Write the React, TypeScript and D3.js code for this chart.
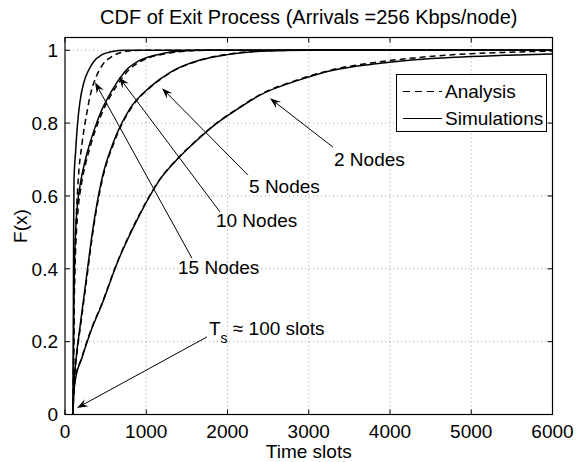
import React, { useEffect, useRef } from 'react';
import * as d3 from 'd3';

type Pt = [number, number];

const title = 'CDF of Exit Process (Arrivals =256 Kbps/node)';
const xTicks = [0, 1000, 2000, 3000, 4000, 5000, 6000];
const yTicks = [0, 0.2, 0.4, 0.6, 0.8, 1];
const yTickLabels = ['0', '0.2', '0.4', '0.6', '0.8', '1'];

// [time slots, F(x)]
const sim2: Pt[] = [[100, 0], [101, 0.03], [130, 0.1], [200, 0.15], [320, 0.23], [450, 0.3], [650, 0.42], [900, 0.54], [1168, 0.645], [1400, 0.705], [1600, 0.748], [1870, 0.8], [2100, 0.835], [2400, 0.877], [2878, 0.918], [3300, 0.945], [3800, 0.962], [4300, 0.974], [4800, 0.981], [5400, 0.986], [6000, 0.99]];
const ana2: Pt[] = [[100, 0], [101, 0.03], [130, 0.1], [200, 0.152], [320, 0.232], [450, 0.302], [650, 0.422], [900, 0.542], [1168, 0.646], [1400, 0.706], [1600, 0.749], [1870, 0.801], [2100, 0.836], [2400, 0.878], [2878, 0.92], [3300, 0.947], [3800, 0.966], [4300, 0.979], [4800, 0.988], [5400, 0.994], [6000, 0.998]];

const sim5: Pt[] = [[100, 0], [104, 0.05], [115, 0.1], [140, 0.16], [190, 0.25], [260, 0.37], [350, 0.52], [452, 0.645], [600, 0.75], [800, 0.84], [1052, 0.9], [1300, 0.94], [1662, 0.973], [2000, 0.988], [2400, 0.997], [3000, 1], [6000, 1]];
const ana5: Pt[] = [[100, 0], [105, 0.05], [117, 0.1], [143, 0.16], [195, 0.25], [266, 0.37], [356, 0.52], [460, 0.645], [610, 0.75], [810, 0.84], [1060, 0.9], [1310, 0.94], [1670, 0.973], [2000, 0.989], [2400, 0.998], [3000, 1], [6000, 1]];

const sim10: Pt[] = [[100, 0], [103, 0.12], [108, 0.28], [116, 0.4], [130, 0.5], [155, 0.58], [190, 0.635], [240, 0.69], [300, 0.74], [357, 0.78], [450, 0.835], [566, 0.885], [680, 0.925], [772, 0.95], [900, 0.97], [1017, 0.981], [1200, 0.991], [1386, 0.997], [1700, 1], [6000, 1]];
const ana10: Pt[] = [[100, 0], [104, 0.1], [110, 0.25], [120, 0.38], [136, 0.48], [162, 0.565], [200, 0.63], [250, 0.685], [310, 0.735], [370, 0.778], [460, 0.83], [575, 0.88], [690, 0.92], [790, 0.947], [920, 0.968], [1040, 0.98], [1220, 0.99], [1400, 0.996], [1750, 1], [6000, 1]];

const sim15: Pt[] = [[100, 0], [101, 0.1], [103, 0.3], [106, 0.5], [111, 0.645], [130, 0.72], [155, 0.8], [185, 0.86], [230, 0.91], [290, 0.945], [357, 0.97], [450, 0.987], [566, 0.996], [750, 1], [6000, 1]];
const ana15: Pt[] = [[100, 0], [104, 0.1], [112, 0.3], [125, 0.45], [140, 0.55], [163, 0.645], [210, 0.745], [267, 0.826], [320, 0.885], [357, 0.912], [410, 0.94], [468, 0.962], [560, 0.98], [677, 0.993], [850, 0.999], [1000, 1], [6000, 1]];

const simSeries = [sim2, sim5, sim10, sim15];
const anaSeries = [ana2, ana5, ana10, ana15];

// annotations in data units: label, arrow tip, arrow tail, text anchor
const noteLabels = ['2 Nodes', '5 Nodes', '10 Nodes', '15 Nodes'];
const noteTips: Pt[] = [[2523, 0.868], [1194, 0.896], [665, 0.926], [369, 0.912]];
const noteTails: Pt[] = [[3298, 0.734], [2252, 0.657], [1908, 0.556], [1563, 0.429]];
const noteText: Pt[] = [[3311, 0.682], [2265, 0.608], [1858, 0.514], [1391, 0.385]];

const tsTip: Pt = [148, 0.018];
const tsTail: Pt = [1748, 0.213];
const tsText: Pt = [1772, 0.218];

const W = 576;
const H = 462;
const FONT = '"Liberation Sans", Arial, Helvetica, sans-serif';

export default function App() {
  const ref = useRef<SVGSVGElement>(null);

  useEffect(() => {
    if (!ref.current) return;
    const svg = d3.select(ref.current);
    svg.selectAll('*').remove();

    const left = 65, right = 552.5, top = 37.5, bottom = 414.5;
    const x = d3.scaleLinear().domain([0, 6000]).range([left, right]);
    const y = d3.scaleLinear().domain([0, 1.035]).range([bottom, top]);

    svg.append('rect').attr('width', W).attr('height', H).attr('fill', '#fff');

    // grid
    const grid = svg.append('g').attr('stroke', '#000').attr('stroke-width', 0.6)
      .attr('stroke-dasharray', '1,3').attr('opacity', 0.6);
    xTicks.filter(t => t > 0 && t < 6000).forEach(t => {
      grid.append('line').attr('x1', x(t)).attr('x2', x(t)).attr('y1', top).attr('y2', bottom);
    });
    yTicks.filter(t => t > 0).forEach(t => {
      grid.append('line').attr('x1', left).attr('x2', right).attr('y1', y(t)).attr('y2', y(t));
    });

    // curves
    const line = d3.line<Pt>().x(d => x(d[0])).y(d => y(d[1])).curve(d3.curveMonotoneX);
    const curves = svg.append('g').attr('fill', 'none').attr('stroke', '#000');
    anaSeries.forEach(s => {
      curves.append('path').attr('d', line(s)).attr('stroke-width', 1.5).attr('stroke-dasharray', '6,4');
    });
    simSeries.forEach(s => {
      curves.append('path').attr('d', line(s)).attr('stroke-width', 1.5);
    });

    // box + ticks
    svg.append('rect').attr('x', left).attr('y', top).attr('width', right - left).attr('height', bottom - top)
      .attr('fill', 'none').attr('stroke', '#000').attr('stroke-width', 1.2);
    const ticks = svg.append('g').attr('stroke', '#000').attr('stroke-width', 1);
    xTicks.forEach(t => {
      ticks.append('line').attr('x1', x(t)).attr('x2', x(t)).attr('y1', bottom).attr('y2', bottom - 5);
      ticks.append('line').attr('x1', x(t)).attr('x2', x(t)).attr('y1', top).attr('y2', top + 5);
    });
    yTicks.forEach(t => {
      ticks.append('line').attr('x1', left).attr('x2', left + 5).attr('y1', y(t)).attr('y2', y(t));
      ticks.append('line').attr('x1', right).attr('x2', right - 5).attr('y1', y(t)).attr('y2', y(t));
    });

    const txt = svg.append('g').attr('font-family', FONT).attr('fill', '#000');
    xTicks.forEach(t => {
      txt.append('text').attr('x', x(t)).attr('y', bottom + 23).attr('text-anchor', 'middle')
        .attr('font-size', 19).text(String(t));
    });
    yTicks.forEach((t, i) => {
      txt.append('text').attr('x', left - 7).attr('y', y(t)).attr('dy', '0.36em').attr('text-anchor', 'end')
        .attr('font-size', 19).text(yTickLabels[i]);
    });
    txt.append('text').attr('x', (left + right) / 2).attr('y', 24).attr('text-anchor', 'middle')
      .attr('font-size', 20).text(title);
    txt.append('text').attr('x', (left + right) / 2).attr('y', 458).attr('text-anchor', 'middle')
      .attr('font-size', 19).text('Time slots');
    txt.append('text').attr('transform', `translate(27,${(top + bottom) / 2}) rotate(-90)`)
      .attr('text-anchor', 'middle').attr('font-size', 19).text('F(x)');

    // arrows
    const arrow = (tail: Pt, tip: Pt) => {
      const x0 = x(tail[0]), y0 = y(tail[1]), x1 = x(tip[0]), y1 = y(tip[1]);
      const len = Math.hypot(x1 - x0, y1 - y0);
      const ux = (x1 - x0) / len, uy = (y1 - y0) / len;
      const nx = -uy, ny = ux;
      svg.append('line').attr('x1', x0).attr('y1', y0).attr('x2', x1 - ux * 6).attr('y2', y1 - uy * 6)
        .attr('stroke', '#000').attr('stroke-width', 1);
      const p = [
        [x1, y1],
        [x1 - 11 * ux + 4 * nx, y1 - 11 * uy + 4 * ny],
        [x1 - 7 * ux, y1 - 7 * uy],
        [x1 - 11 * ux - 4 * nx, y1 - 11 * uy - 4 * ny],
      ];
      svg.append('path').attr('d', 'M' + p.map(q => q.join(',')).join('L') + 'Z').attr('fill', '#000');
    };
    noteLabels.forEach((lab, i) => {
      arrow(noteTails[i], noteTips[i]);
      txt.append('text').attr('x', x(noteText[i][0])).attr('y', y(noteText[i][1]))
        .attr('font-size', 19).text(lab);
    });
    arrow(tsTail, tsTip);
    const ts = txt.append('text').attr('x', x(tsText[0])).attr('y', y(tsText[1])).attr('font-size', 19);
    ts.append('tspan').text('T');
    ts.append('tspan').attr('font-size', 14).attr('dy', 8).text('s');
    ts.append('tspan').attr('dy', -8).text(' \u2248 100 slots');

    // legend
    const lg = svg.append('g');
    lg.append('rect').attr('x', 396.5).attr('y', 74.5).attr('width', 150).attr('height', 57)
      .attr('fill', '#fff').attr('stroke', '#000').attr('stroke-width', 1);
    lg.append('line').attr('x1', 403).attr('x2', 442).attr('y1', 91.5).attr('y2', 91.5)
      .attr('stroke', '#000').attr('stroke-width', 1).attr('stroke-dasharray', '7,5');
    lg.append('line').attr('x1', 403).attr('x2', 442).attr('y1', 118.5).attr('y2', 118.5)
      .attr('stroke', '#000').attr('stroke-width', 1);
    lg.append('text').attr('x', 445).attr('y', 91.5).attr('dy', '0.36em').attr('font-family', FONT)
      .attr('font-size', 19).text('Analysis');
    lg.append('text').attr('x', 445).attr('y', 118.5).attr('dy', '0.36em').attr('font-family', FONT)
      .attr('font-size', 19).text('Simulations');
  }, []);

  return (
    <svg ref={ref} width={W} height={H} style={{ position: 'absolute', left: 0, top: 0, display: 'block' }} />
  );
}
